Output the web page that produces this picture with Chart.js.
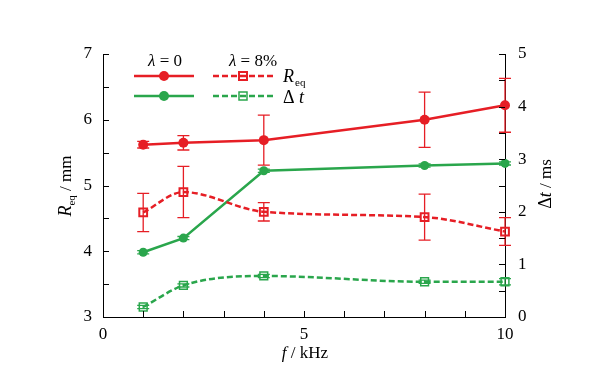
<!DOCTYPE html>
<html><head><meta charset="utf-8">
<script src="https://cdn.jsdelivr.net/npm/chart.js@4"></script>
<style>html,body{margin:0;padding:0;background:#fff}#wrap{width:591px;height:382px}</style>
</head><body><div id="wrap"><canvas id="c" width="591" height="382"></canvas></div>
<script>
const freqs = [1, 2, 4, 8, 10];
const reqLambda0 = [5.62, 5.65, 5.69, 6.00, 6.22];
const reqLambda0Err = [0.05, 0.11, 0.38, 0.42, 0.41];
const reqLambda8 = [4.59, 4.90, 4.60, 4.52, 4.30];
const reqLambda8Err = [0.29, 0.39, 0.14, 0.35, 0.21];
const dtLambda0 = [1.23, 1.50, 2.78, 2.88, 2.92];
const dtLambda0Err = [0.03, 0.03, 0.03, 0.03, 0.03];
const dtLambda8 = [0.19, 0.60, 0.78, 0.67, 0.67];
const dtLambda8Err = [0.03, 0.03, 0.03, 0.03, 0.06];
const xTicks = [0, 5, 10];
const leftTicks = [3, 4, 5, 6, 7];
const rightTicks = [0, 1, 2, 3, 4, 5];

const RED = '#e61e25';
const GREEN = '#2aa64c';
const SERIF = '"Liberation Serif", "Times New Roman", serif';

const pts = arr => arr.map((v, i) => ({x: freqs[i], y: v}));
const errs = [reqLambda0Err, reqLambda8Err, dtLambda0Err, dtLambda8Err];

function drawRich(ctx, parts, x, y) {
  let w = 0;
  parts.forEach(p => { ctx.font = p.font; w += ctx.measureText(p.t).width; });
  let cx = x - w / 2;
  ctx.textBaseline = 'alphabetic';
  ctx.textAlign = 'left';
  parts.forEach(p => {
    ctx.font = p.font;
    ctx.fillText(p.t, cx, y + (p.dy || 0));
    cx += ctx.measureText(p.t).width;
  });
}

const decor = {
  id: 'decor',
  beforeDatasetsDraw(chart) {
    const ctx = chart.ctx;
    ctx.save();
    ctx.lineWidth = 1.3;
    chart.data.datasets.forEach((ds, di) => {
      const e = errs[di];
      const xs = chart.scales.x, ys = chart.scales[ds.yAxisID];
      ctx.strokeStyle = ds.borderColor;
      ctx.setLineDash([]);
      ds.data.forEach((p, i) => {
        const px = xs.getPixelForValue(p.x);
        const y1 = ys.getPixelForValue(p.y + e[i]);
        const y2 = ys.getPixelForValue(p.y - e[i]);
        ctx.beginPath();
        ctx.moveTo(px, y1); ctx.lineTo(px, y2);
        ctx.moveTo(px - 6, y1); ctx.lineTo(px + 6, y1);
        ctx.moveTo(px - 6, y2); ctx.lineTo(px + 6, y2);
        ctx.stroke();
      });
    });
    ctx.restore();
  },
  afterDraw(chart) {
    const ctx = chart.ctx;
    const {x, y, y2} = chart.scales;
    const area = chart.chartArea;
    ctx.save();
    ctx.strokeStyle = '#000';
    ctx.lineWidth = 1;
    const TL = 6;
    ctx.beginPath();
    for (let v = 0; v <= 10; v += 1) {
      const px = Math.round(x.getPixelForValue(v)) + 0.5;
      ctx.moveTo(px, area.bottom); ctx.lineTo(px, area.bottom - TL);
    }
    for (let v = 3; v <= 7.001; v += 0.5) {
      const py = Math.round(y.getPixelForValue(v)) + 0.5;
      ctx.moveTo(area.left, py); ctx.lineTo(area.left + TL, py);
    }
    for (let v = 0; v <= 5.001; v += 0.5) {
      const py = Math.round(y2.getPixelForValue(v)) + 0.5;
      ctx.moveTo(area.right, py); ctx.lineTo(area.right - TL, py);
    }
    ctx.stroke();

    // legend
    ctx.fillStyle = '#000';
    drawRich(ctx, [{t: 'λ', font: 'italic 17px ' + SERIF}, {t: ' = 0', font: '17px ' + SERIF}], 165, 66);
    drawRich(ctx, [{t: 'λ', font: 'italic 17px ' + SERIF}, {t: ' = 8%', font: '17px ' + SERIF}], 253, 66);
    const rows = [{yy: 76, c: RED, lw: 2.5, bw: 2}, {yy: 96, c: GREEN, lw: 2.5, bw: 1.5}];
    rows.forEach(r => {
      ctx.strokeStyle = r.c; ctx.fillStyle = r.c;
      ctx.lineWidth = r.lw;
      ctx.setLineDash([]);
      ctx.beginPath(); ctx.moveTo(134, r.yy); ctx.lineTo(194, r.yy); ctx.stroke();
      ctx.beginPath(); ctx.arc(164, r.yy, 5, 0, Math.PI * 2); ctx.fill();
      ctx.setLineDash([6, 3]);
      ctx.beginPath(); ctx.moveTo(213, r.yy); ctx.lineTo(274, r.yy); ctx.stroke();
      ctx.setLineDash([]);
      ctx.lineWidth = r.bw;
      ctx.strokeRect(239, r.yy - 4, 8, 8);
    });
    ctx.fillStyle = '#000';
    ctx.textAlign = 'left';
    ctx.font = 'italic 18px ' + SERIF;
    ctx.fillText('R', 283, 82);
    ctx.font = '11px ' + SERIF;
    ctx.fillText('eq', 295, 86);
    ctx.font = '18px ' + SERIF;
    ctx.fillText('Δ', 283, 103);
    ctx.font = 'italic 18px ' + SERIF;
    ctx.fillText('t', 299, 103);

    // axis titles
    drawRich(ctx, [{t: 'f', font: 'italic 17px ' + SERIF}, {t: ' / kHz', font: '17px ' + SERIF}], 305, 358);
    ctx.save();
    ctx.translate(71, 186);
    ctx.rotate(-Math.PI / 2);
    drawRich(ctx, [{t: 'R', font: 'italic 18px ' + SERIF}, {t: 'eq', font: '11px ' + SERIF, dy: 4},
                   {t: ' / mm', font: '17px ' + SERIF}], 0, 0);
    ctx.restore();
    ctx.save();
    ctx.translate(551, 184);
    ctx.rotate(-Math.PI / 2);
    drawRich(ctx, [{t: 'Δ', font: '18px ' + SERIF}, {t: 't', font: 'italic 18px ' + SERIF},
                   {t: ' / ms', font: '17px ' + SERIF}], 0, 0);
    ctx.restore();
    ctx.restore();
  }
};

const tickFont = {family: SERIF, size: 17};
new Chart(document.getElementById('c'), {
  type: 'line',
  data: {
    datasets: [
      {data: pts(reqLambda0), yAxisID: 'y', borderColor: RED, backgroundColor: RED, borderWidth: 2.5,
       pointStyle: 'circle', pointRadius: 5, pointBorderWidth: 0, tension: 0, clip: false},
      {data: pts(reqLambda8), yAxisID: 'y', borderColor: RED, backgroundColor: 'rgba(0,0,0,0)', borderWidth: 2.5,
       borderDash: [6, 3], pointStyle: 'rect', pointRadius: 5.5, pointBorderWidth: 2, pointBorderColor: RED,
       cubicInterpolationMode: 'monotone', clip: false},
      {data: pts(dtLambda0), yAxisID: 'y2', borderColor: GREEN, backgroundColor: GREEN, borderWidth: 2.5,
       pointStyle: 'circle', pointRadius: 4.5, pointBorderWidth: 0, tension: 0, clip: false},
      {data: pts(dtLambda8), yAxisID: 'y2', borderColor: GREEN, backgroundColor: 'rgba(0,0,0,0)', borderWidth: 2.5,
       borderDash: [6, 3], pointStyle: 'rect', pointRadius: 5.5, pointBorderWidth: 1.5, pointBorderColor: GREEN,
       cubicInterpolationMode: 'monotone', clip: false}
    ]
  },
  options: {
    responsive: false,
    animation: false,
    devicePixelRatio: 1,
    layout: {padding: {top: 54, left: 0, right: 0, bottom: 0}},
    plugins: {legend: {display: false}, tooltip: {enabled: false}},
    scales: {
      x: {
        type: 'linear', min: 0, max: 10,
        afterBuildTicks: s => { s.ticks = xTicks.map(v => ({value: v})); },
        afterFit: s => { s.height = 65; },
        grid: {display: false, drawTicks: false},
        border: {display: true, color: '#000', width: 1},
        ticks: {font: tickFont, color: '#000', padding: 7, maxRotation: 0}
      },
      y: {
        position: 'left', min: 3, max: 7,
        afterBuildTicks: s => { s.ticks = leftTicks.map(v => ({value: v})); },
        afterFit: s => { s.width = 103; },
        grid: {display: false, drawTicks: false},
        border: {display: true, color: '#000', width: 1},
        ticks: {font: tickFont, color: '#000', padding: 11}
      },
      y2: {
        position: 'right', min: 0, max: 5,
        afterBuildTicks: s => { s.ticks = rightTicks.map(v => ({value: v})); },
        afterFit: s => { s.width = 86; },
        grid: {display: false, drawTicks: false},
        border: {display: true, color: '#000', width: 1},
        ticks: {font: tickFont, color: '#000', padding: 13}
      }
    }
  },
  plugins: [decor]
});
</script></body></html>
